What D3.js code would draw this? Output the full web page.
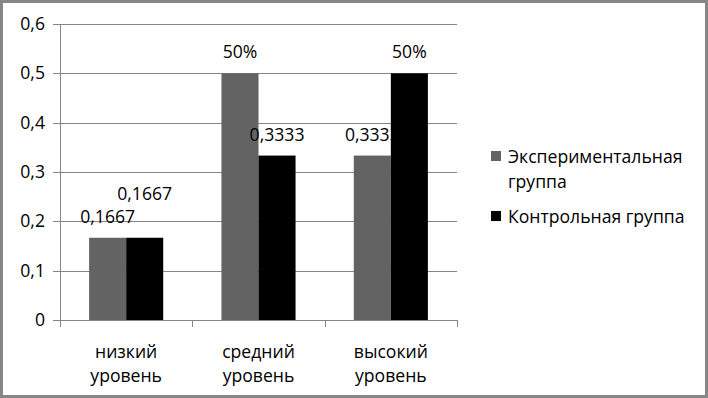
<!DOCTYPE html>
<html>
<head>
<meta charset="utf-8">
<script src="https://cdn.jsdelivr.net/npm/d3@7"></script>
<style>
  body { margin: 0; background: #fff; }
  svg text { font-family: "Open Sans", "Noto Sans", sans-serif; font-size: 17.6px; fill: #000; }
</style>
</head>
<body>
<div id="chart"></div>
<script>
// data
const categories = [["низкий", "уровень"], ["средний", "уровень"], ["высокий", "уровень"]]
const seriesNames = ["Экспериментальная группа", "Контрольная группа"]
const expValues = [0.1667, 0.5, 0.3333]
const ctrlValues = [0.1667, 0.3333, 0.5]
const expLabels = ["0,1667", "50%", "0,3333"]
const ctrlLabels = ["0,1667", "0,3333", "50%"]
const yTicks = [0, 0.1, 0.2, 0.3, 0.4, 0.5, 0.6]

const W = 708, H = 398
const margin = { top: 24, left: 60, right: 251, bottom: 78 }
const colors = ["#636363", "#000000"]

const svg = d3.select("#chart").append("svg")
    .attr("width", W)
    .attr("height", H)

// outer frame
svg.append("rect")
    .attr("x", 1.5).attr("y", 1.5)
    .attr("width", W - 3).attr("height", H - 3)
    .attr("fill", "#fff")
    .attr("stroke", "#868686")
    .attr("stroke-width", 3)

const x0 = d3.scaleBand()
    .domain(d3.range(categories.length))
    .range([margin.left, W - margin.right])
    .paddingInner(0.44)
    .paddingOuter(0.22)
const x1 = d3.scaleBand()
    .domain([0, 1])
    .range([0, x0.bandwidth()])
const y = d3.scaleLinear()
    .domain([0, 0.6])
    .range([H - margin.bottom, margin.top])

const fmt = d3.format(".1f")

// gridlines
svg.append("g")
    .selectAll("line")
    .data(yTicks)
    .join("line")
    .attr("x1", margin.left - 7)
    .attr("x2", W - margin.right)
    .attr("y1", d => Math.round(y(d)) + 0.5)
    .attr("y2", d => Math.round(y(d)) + 0.5)
    .attr("stroke", "#868686")

// y axis line
svg.append("line")
    .attr("x1", margin.left + 0.5).attr("x2", margin.left + 0.5)
    .attr("y1", y(0.6)).attr("y2", y(0))
    .attr("stroke", "#868686")

// y tick labels
svg.append("g")
    .selectAll("text")
    .data(yTicks)
    .join("text")
    .attr("x", 45)
    .attr("y", d => y(d))
    .attr("dy", "0.35em")
    .attr("text-anchor", "end")
    .text(d => d === 0 ? "0" : fmt(d).replace(".", ","))

// x axis tick marks on category boundaries
const bounds = d3.range(categories.length + 1).map(i => margin.left + i * (W - margin.left - margin.right) / categories.length)
svg.append("g")
    .selectAll("line")
    .data(bounds)
    .join("line")
    .attr("x1", d => Math.round(d) + 0.5)
    .attr("x2", d => Math.round(d) + 0.5)
    .attr("y1", y(0))
    .attr("y2", y(0) + 7)
    .attr("stroke", "#868686")

// category labels
const catG = svg.append("g")
    .selectAll("text")
    .data(categories)
    .join("text")
    .attr("text-anchor", "middle")
    .attr("x", (d, i) => x0(i) + x0.bandwidth() / 2)
    .attr("y", y(0) + 38)
catG.selectAll("tspan")
    .data(d => d)
    .join("tspan")
    .attr("x", function() { return this.parentNode.getAttribute("x") })
    .attr("dy", (d, i) => i === 0 ? 0 : 24)
    .text(d => d)

// each series: bars then its labels (grey labels end up partly under black bars)
const series = [
    { values: expValues, labels: expLabels },
    { values: ctrlValues, labels: ctrlLabels }
]
series.forEach((s, si) => {
    svg.append("g")
        .selectAll("rect")
        .data(s.values)
        .join("rect")
        .attr("x", (d, i) => x0(i) + x1(si))
        .attr("width", x1.bandwidth())
        .attr("y", d => y(d))
        .attr("height", d => y(0) - y(d))
        .attr("fill", colors[si])
    svg.append("g")
        .selectAll("text")
        .data(s.values)
        .join("text")
        .attr("text-anchor", "middle")
        .attr("x", (d, i) => x0(i) + x1(si) + x1.bandwidth() / 2)
        .attr("y", (d, i) => y(d) - (si === 1 && i === 0 ? 44 : 21))
        .attr("dy", "0.35em")
        .text((d, i) => s.labels[i])
})

// legend
const legend = svg.append("g")
const legendItems = [["Экспериментальная", "группа"], ["Контрольная группа"]]
const legendY = [157, 217]
legendItems.forEach((lines, i) => {
    legend.append("rect")
        .attr("x", 491).attr("y", legendY[i] - 6)
        .attr("width", 10).attr("height", 10)
        .attr("fill", colors[i])
    const t = legend.append("text")
        .attr("x", 508).attr("y", legendY[i])
    t.selectAll("tspan")
        .data(lines)
        .join("tspan")
        .attr("x", 508)
        .attr("dy", (d, j) => j === 0 ? "0.35em" : 25)
        .text(d => d)
})
</script>
</body>
</html>
